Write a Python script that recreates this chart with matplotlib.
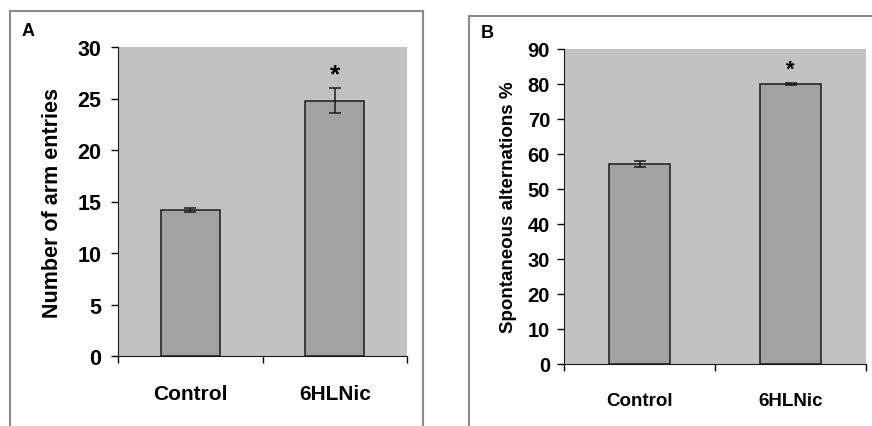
import matplotlib.pyplot as plt
from matplotlib.patches import Rectangle

groups = ["Control", "6HLNic"]
arm_entries = [14.2, 24.8]
arm_err = [0.2, 1.2]
alternations = [57.1, 80.0]
alt_err = [0.9, 0.3]

W, H = 872, 427
fig = plt.figure(figsize=(W / 100, H / 100), dpi=100)
plt.rcParams['font.family'] = ['Liberation Sans', 'DejaVu Sans']

def px_axes(x0, y0, x1, y1):
    # pixel box (top-left origin) -> figure fraction
    return fig.add_axes([x0 / W, 1 - y1 / H, (x1 - x0) / W, (y1 - y0) / H])

# panel frames
fig.patches.append(Rectangle((10 / W, -0.05), (423 - 10) / W, 1.05 - 12 / H,
                             transform=fig.transFigure, fill=False,
                             edgecolor='#8a8a8a', lw=1.5))
fig.patches.append(Rectangle((469 / W, -0.05), 0.5, 1.05 - 17 / H,
                             transform=fig.transFigure, fill=False,
                             edgecolor='#8a8a8a', lw=1.5))

def draw_panel(ax, vals, errs, ymax, step, ylabel, lab_fs, tick_fs, xt_fs,
               star_y, star_fs, tpad, lpad, xpad):
    x = range(len(groups))
    ax.set_facecolor('#c2c2c2')
    ax.bar(x, vals, width=0.41, color='#a2a2a2', edgecolor='#1a1a1a', lw=1.1, zorder=2)
    ax.errorbar(x, vals, yerr=errs, fmt='none', ecolor='#1a1a1a', elinewidth=1.1,
                capsize=4, capthick=1.1, zorder=3)
    ax.text(1, star_y, '*', ha='center', va='center', fontsize=star_fs, fontweight='bold')
    ax.set_xlim(-0.5, 1.5)
    ax.set_ylim(0, ymax)
    ax.set_yticks(range(0, ymax + 1, step))
    ax.set_xticks([-0.5, 0.5, 1.5])
    ax.set_xticklabels([])
    ax.set_xticks([0, 1], minor=True)
    ax.set_xticklabels(groups, minor=True, fontsize=xt_fs, fontweight='bold')
    ax.tick_params(axis='x', which='minor', length=0, pad=xpad)
    ax.tick_params(axis='x', which='major', length=5, direction='out', width=1)
    ax.tick_params(axis='y', length=5, direction='out', width=1, labelsize=tick_fs, pad=tpad)
    for t in ax.get_yticklabels():
        t.set_fontweight('bold')
    ax.spines['top'].set_visible(False)
    ax.spines['right'].set_visible(False)
    ax.spines['left'].set_color('#1a1a1a')
    ax.spines['bottom'].set_color('#1a1a1a')
    ax.set_ylabel(ylabel, fontsize=lab_fs, fontweight='bold', labelpad=lpad)

axA = px_axes(118, 48, 407, 357)
draw_panel(axA, arm_entries, arm_err, 30, 5, 'Number of arm entries',
           15.5, 15.5, 15, 27.3, 19, 7, 10, 20)
axB = px_axes(564, 50, 866, 365)
draw_panel(axB, alternations, alt_err, 90, 10, 'Spontaneous alternations %',
           13.5, 14.5, 13.5, 84.3, 16, 5, 8, 20)

fig.text(22 / W, 1 - 31 / H, 'A', fontsize=13, fontweight='bold', va='center')
fig.text(481 / W, 1 - 33 / H, 'B', fontsize=13, fontweight='bold', va='center')

fig.savefig('out.png', dpi=100)
